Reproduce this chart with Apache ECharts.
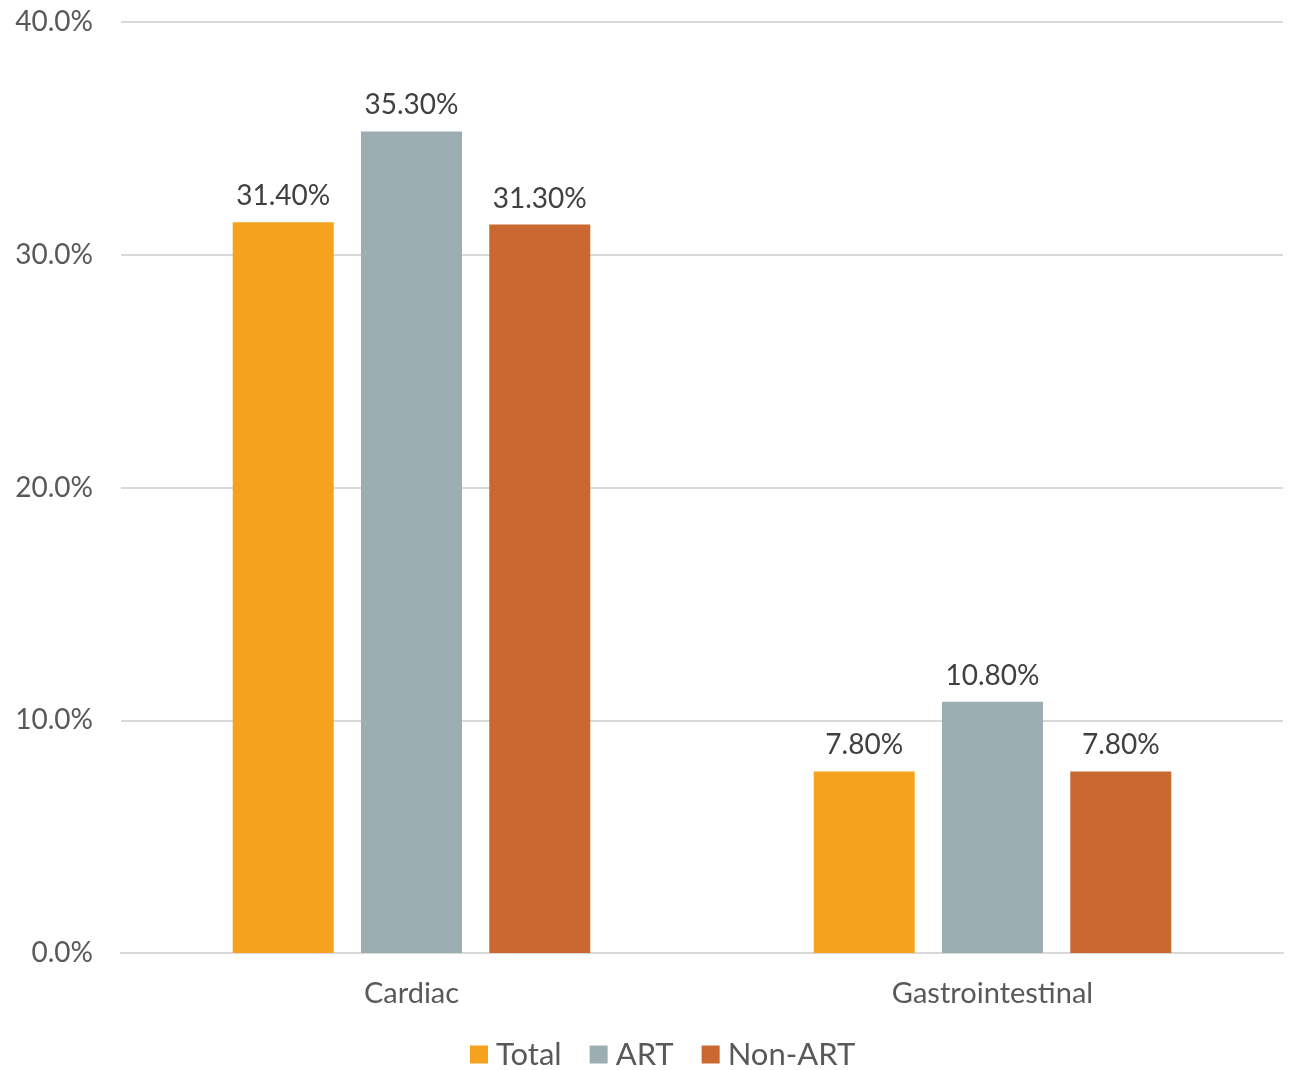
<!DOCTYPE html>
<html>
<head>
<meta charset="utf-8">
<script src="https://cdn.jsdelivr.net/npm/echarts@6/dist/echarts.min.js"></script>
<style>
  html, body { margin: 0; padding: 0; background: #fff; }
  #chart { width: 1294px; height: 1070px; }
</style>
</head>
<body>
<div id="chart"></div>
<script>
var categories = ['Cardiac', 'Gastrointestinal'];
var seriesNames = ['Total', 'ART', 'Non-ART'];
var totalValues = [31.4, 7.8];
var artValues = [35.3, 10.8];
var nonArtValues = [31.3, 7.8];
var colors = ['#F5A21F', '#9DAEB3', '#C96830'];

var font = 'Lato, "Open Sans", sans-serif';

function makeSeries(name, data, color) {
    return {
        name: name,
        type: 'bar',
        data: data,
        barWidth: 101,
        barGap: '27%',
        itemStyle: { color: color },
        label: {
            show: true,
            position: 'top',
            distance: 12,
            color: '#404040',
            fontSize: 28,
            fontFamily: font,
            formatter: function (p) { return p.value.toFixed(2) + '%'; }
        }
    };
}

var chart = echarts.init(document.getElementById('chart'));
chart.setOption({
    animation: false,
    grid: { left: 121, right: 11, top: 22, bottom: 117 },
    legend: {
        bottom: 0,
        left: 470,
        padding: 0,
        itemWidth: 18,
        itemHeight: 18,
        itemGap: 28,
        icon: 'rect',
        textStyle: { color: '#595959', fontSize: 31, fontFamily: font, padding: [0, 0, 0, 3] },
        data: seriesNames
    },
    xAxis: {
        type: 'category',
        data: categories,
        axisTick: { show: false },
        axisLine: { lineStyle: { color: '#D9D9D9', width: 2 } },
        axisLabel: { color: '#595959', fontSize: 29, fontFamily: font, margin: 26 }
    },
    yAxis: {
        type: 'value',
        min: 0,
        max: 40,
        interval: 10,
        axisLabel: {
            color: '#595959', fontSize: 28, fontFamily: font, margin: 28,
            formatter: function (v) { return v.toFixed(1) + '%'; }
        },
        splitLine: { lineStyle: { color: '#D9D9D9', width: 2 } }
    },
    series: [
        makeSeries(seriesNames[0], totalValues, colors[0]),
        makeSeries(seriesNames[1], artValues, colors[1]),
        makeSeries(seriesNames[2], nonArtValues, colors[2])
    ]
});
</script>
</body>
</html>
